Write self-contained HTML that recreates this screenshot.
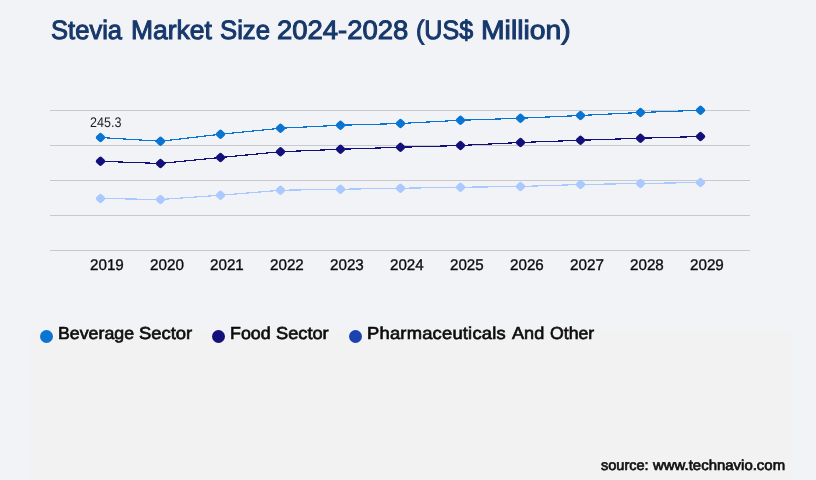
<!DOCTYPE html>
<html><head><meta charset="utf-8"><title>Stevia Market Size</title>
<style>
html,body{margin:0;padding:0;}
body{width:816px;height:480px;background:#f2f3f7;position:relative;overflow:hidden;font-family:"Liberation Sans",sans-serif;}
.panel{position:absolute;left:30px;top:330px;width:762px;height:150px;background:#f2f2f2;}
.chart{position:absolute;left:0;top:0;}
.w{position:absolute;white-space:nowrap;transform-origin:0 50%;text-rendering:geometricPrecision;}
.layer{position:absolute;left:0;top:0;width:816px;height:480px;will-change:transform;}
.title{top:14px;font-size:26.5px;line-height:32px;color:#16386b;-webkit-text-stroke:1.0px #16386b;}
.lg{top:322px;font-size:17.3px;line-height:22px;color:#0d0d0d;-webkit-text-stroke:0.65px #0d0d0d;}
.src{top:457px;font-size:14.4px;line-height:18px;color:#111;-webkit-text-stroke:0.7px #111;}
.yr{top:257.45px;font-size:15.5px;line-height:18px;color:#0c0c0c;-webkit-text-stroke:0.35px #0c0c0c;}
.dl{top:113.85px;font-size:14px;line-height:16px;color:#1c1c1c;}
.dot{position:absolute;width:13px;height:13px;border-radius:50%;top:330px;}
</style></head><body>
<div class="panel"></div>
<svg class="chart" width="816" height="300" viewBox="0 0 816 300">
<rect x="50" y="110" width="700" height="1" fill="#c9c9cc"/>
<rect x="50" y="145" width="700" height="1" fill="#c9c9cc"/>
<rect x="50" y="180" width="700" height="1" fill="#c9c9cc"/>
<rect x="50" y="215" width="700" height="1" fill="#c9c9cc"/>
<rect x="50" y="250" width="700" height="1" fill="#c9c9cc"/>
<polyline points="100.5,198.5 160.5,199.5 220.5,195.25 280.5,190.25 340.5,189.25 400.5,188.25 460.5,187.25 520.5,186.5 580.5,184.5 640.5,183.5 700.5,182.5" fill="none" stroke="#a9c9ff" stroke-width="1.2" shape-rendering="crispEdges"/>
<rect x="96.60" y="194.60" width="7.8" height="7.8" rx="2" fill="#a9c9ff" transform="rotate(45 100.5 198.5)"/>
<rect x="156.60" y="195.60" width="7.8" height="7.8" rx="2" fill="#a9c9ff" transform="rotate(45 160.5 199.5)"/>
<rect x="216.60" y="191.35" width="7.8" height="7.8" rx="2" fill="#a9c9ff" transform="rotate(45 220.5 195.25)"/>
<rect x="276.60" y="186.35" width="7.8" height="7.8" rx="2" fill="#a9c9ff" transform="rotate(45 280.5 190.25)"/>
<rect x="336.60" y="185.35" width="7.8" height="7.8" rx="2" fill="#a9c9ff" transform="rotate(45 340.5 189.25)"/>
<rect x="396.60" y="184.35" width="7.8" height="7.8" rx="2" fill="#a9c9ff" transform="rotate(45 400.5 188.25)"/>
<rect x="456.60" y="183.35" width="7.8" height="7.8" rx="2" fill="#a9c9ff" transform="rotate(45 460.5 187.25)"/>
<rect x="516.60" y="182.60" width="7.8" height="7.8" rx="2" fill="#a9c9ff" transform="rotate(45 520.5 186.5)"/>
<rect x="576.60" y="180.60" width="7.8" height="7.8" rx="2" fill="#a9c9ff" transform="rotate(45 580.5 184.5)"/>
<rect x="636.60" y="179.60" width="7.8" height="7.8" rx="2" fill="#a9c9ff" transform="rotate(45 640.5 183.5)"/>
<rect x="696.60" y="178.60" width="7.8" height="7.8" rx="2" fill="#a9c9ff" transform="rotate(45 700.5 182.5)"/>
<polyline points="100.5,161.25 160.5,163.5 220.5,157.5 280.5,151.75 340.5,149.25 400.5,147.25 460.5,145.5 520.5,142.5 580.5,140.25 640.5,138.25 700.5,136.5" fill="none" stroke="#14107a" stroke-width="1.2" shape-rendering="crispEdges"/>
<rect x="96.60" y="157.35" width="7.8" height="7.8" rx="2" fill="#14107a" transform="rotate(45 100.5 161.25)"/>
<rect x="156.60" y="159.60" width="7.8" height="7.8" rx="2" fill="#14107a" transform="rotate(45 160.5 163.5)"/>
<rect x="216.60" y="153.60" width="7.8" height="7.8" rx="2" fill="#14107a" transform="rotate(45 220.5 157.5)"/>
<rect x="276.60" y="147.85" width="7.8" height="7.8" rx="2" fill="#14107a" transform="rotate(45 280.5 151.75)"/>
<rect x="336.60" y="145.35" width="7.8" height="7.8" rx="2" fill="#14107a" transform="rotate(45 340.5 149.25)"/>
<rect x="396.60" y="143.35" width="7.8" height="7.8" rx="2" fill="#14107a" transform="rotate(45 400.5 147.25)"/>
<rect x="456.60" y="141.60" width="7.8" height="7.8" rx="2" fill="#14107a" transform="rotate(45 460.5 145.5)"/>
<rect x="516.60" y="138.60" width="7.8" height="7.8" rx="2" fill="#14107a" transform="rotate(45 520.5 142.5)"/>
<rect x="576.60" y="136.35" width="7.8" height="7.8" rx="2" fill="#14107a" transform="rotate(45 580.5 140.25)"/>
<rect x="636.60" y="134.35" width="7.8" height="7.8" rx="2" fill="#14107a" transform="rotate(45 640.5 138.25)"/>
<rect x="696.60" y="132.60" width="7.8" height="7.8" rx="2" fill="#14107a" transform="rotate(45 700.5 136.5)"/>
<polyline points="100.5,137.5 160.5,141.25 220.5,134.25 280.5,128.25 340.5,125.25 400.5,123.5 460.5,120.25 520.5,118.25 580.5,115.5 640.5,112.5 700.5,110.25" fill="none" stroke="#0a74d2" stroke-width="1.2" shape-rendering="crispEdges"/>
<rect x="96.60" y="133.60" width="7.8" height="7.8" rx="2" fill="#0a74d2" transform="rotate(45 100.5 137.5)"/>
<rect x="156.60" y="137.35" width="7.8" height="7.8" rx="2" fill="#0a74d2" transform="rotate(45 160.5 141.25)"/>
<rect x="216.60" y="130.35" width="7.8" height="7.8" rx="2" fill="#0a74d2" transform="rotate(45 220.5 134.25)"/>
<rect x="276.60" y="124.35" width="7.8" height="7.8" rx="2" fill="#0a74d2" transform="rotate(45 280.5 128.25)"/>
<rect x="336.60" y="121.35" width="7.8" height="7.8" rx="2" fill="#0a74d2" transform="rotate(45 340.5 125.25)"/>
<rect x="396.60" y="119.60" width="7.8" height="7.8" rx="2" fill="#0a74d2" transform="rotate(45 400.5 123.5)"/>
<rect x="456.60" y="116.35" width="7.8" height="7.8" rx="2" fill="#0a74d2" transform="rotate(45 460.5 120.25)"/>
<rect x="516.60" y="114.35" width="7.8" height="7.8" rx="2" fill="#0a74d2" transform="rotate(45 520.5 118.25)"/>
<rect x="576.60" y="111.60" width="7.8" height="7.8" rx="2" fill="#0a74d2" transform="rotate(45 580.5 115.5)"/>
<rect x="636.60" y="108.60" width="7.8" height="7.8" rx="2" fill="#0a74d2" transform="rotate(45 640.5 112.5)"/>
<rect x="696.60" y="106.35" width="7.8" height="7.8" rx="2" fill="#0a74d2" transform="rotate(45 700.5 110.25)"/>
</svg>
<div class="layer">
<span class="w title" style="left:50.89px;transform:translateY(0px) scaleX(0.9650)">Stevia</span>
<span class="w title" style="left:130.97px;transform:translateY(0px) scaleX(0.9989)">Market</span>
<span class="w title" style="left:219.79px;transform:translateY(0px) scaleX(0.9708)">Size</span>
<span class="w title" style="left:277.28px;transform:translateY(0px) scaleX(1.0364)">2024-2028</span>
<span class="w title" style="left:415.95px;transform:translateY(0px) scaleX(0.9464)">(US$</span>
<span class="w title" style="left:481.04px;transform:translateY(0px) scaleX(1.0695)">Million)</span>
<span class="w lg" style="left:58.46px;transform:translateY(0px) scaleX(1.0278)">Beverage</span>
<span class="w lg" style="left:139.44px;transform:translateY(0px) scaleX(1.0659)">Sector</span>
<span class="w lg" style="left:230.46px;transform:translateY(0px) scaleX(1.0304)">Food</span>
<span class="w lg" style="left:275.95px;transform:translateY(0px) scaleX(1.0549)">Sector</span>
<span class="w lg" style="left:366.89px;transform:translateY(0px) scaleX(1.0635);letter-spacing:0.19px">Pharmaceuticals</span>
<span class="w lg" style="left:511.69px;transform:translateY(0px) scaleX(1.0480)">And</span>
<span class="w lg" style="left:549.60px;transform:translateY(0px) scaleX(1.0219)">Other</span>
<span class="w src" style="left:600.97px;transform:translateY(0px) scaleX(1.0094)">source:</span>
<span class="w src" style="left:653.06px;transform:translateY(0px) scaleX(1.0389)">www.technavio.com</span>
<span class="w dl" style="left:89.54px;transform:translateY(0px) scaleX(0.8961)">245.3</span>
<span class="w yr" style="left:89.58px;transform:translateY(-0.5px) scaleX(0.9807)">2019</span>
<span class="w yr" style="left:149.67px;transform:translateY(-0.5px) scaleX(0.9836)">2020</span>
<span class="w yr" style="left:209.57px;transform:translateY(-0.5px) scaleX(0.9800)">2021</span>
<span class="w yr" style="left:269.57px;transform:translateY(-0.5px) scaleX(0.9807)">2022</span>
<span class="w yr" style="left:329.58px;transform:translateY(-0.5px) scaleX(0.9809)">2023</span>
<span class="w yr" style="left:389.64px;transform:translateY(-0.5px) scaleX(0.9761)">2024</span>
<span class="w yr" style="left:449.57px;transform:translateY(-0.5px) scaleX(0.9776)">2025</span>
<span class="w yr" style="left:509.57px;transform:translateY(-0.5px) scaleX(0.9791)">2026</span>
<span class="w yr" style="left:569.62px;transform:translateY(-0.5px) scaleX(0.9845)">2027</span>
<span class="w yr" style="left:629.57px;transform:translateY(-0.5px) scaleX(0.9794)">2028</span>
<span class="w yr" style="left:689.58px;transform:translateY(-0.5px) scaleX(0.9807)">2029</span>
</div>
<span class="dot" style="left:40px;background:#0a74d2"></span>
<span class="dot" style="left:212px;background:#14107a"></span>
<span class="dot" style="left:349px;background:#1b42ae"></span>
</body></html>
